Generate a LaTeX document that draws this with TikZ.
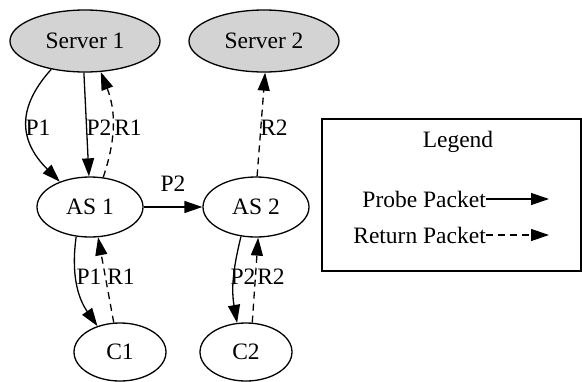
\documentclass[tikz,border=0pt]{standalone}
\usepackage{fontspec}
\setmainfont{Liberation Serif}
\usetikzlibrary{shapes.geometric,arrows.meta}
\definecolor{srvfill}{HTML}{D3D3D3}
\tikzset{
  every node/.style={font=\fontsize{23.5}{27}\selectfont},
  hostnode/.style={draw, line width=1.3pt, ellipse, inner sep=0pt},
  server/.style={hostnode, fill=srvfill, minimum width=150pt, minimum height=62pt},
  asnode/.style={hostnode, minimum width=106pt, minimum height=60pt},
  client/.style={hostnode, minimum width=92pt, minimum height=58pt},
  probe/.style={line width=1.3pt, -{Triangle[length=18pt,width=12pt]}},
  reply/.style={probe, dash pattern=on 7pt off 5pt},
  lbl/.style={inner sep=0pt}
}
\begin{document}
\begin{tikzpicture}[x=1pt,y=-1pt]
\useasboundingbox (0,0) rectangle (582,381);

% hosts
\node[server] (s1) at (85,41) {Server 1};
\node[server] (s2) at (264,41) {Server 2};
\node[asnode] (as1) at (90,207) {AS 1};
\node[asnode] (as2) at (256,207) {AS 2};
\node[client] (c1) at (120,352) {C1};
\node[client] (c2) at (246,352) {C2};

% probe and return paths
\draw[probe] (s1.220) to[out=228,in=135,looseness=1.25] (as1.140);
\draw[probe] (s1.268) -- (as1.92);
\draw[reply] (as1.66) to[bend right=20] (s1.297);
\draw[probe] (as1.east) -- (as2.west);
\draw[reply] (as2.88) -- (s2.272);
\draw[probe] (as1.245) to[out=262,in=125] (c1.131);
\draw[reply] (c1.102) -- (as1.285);
\draw[probe] (as2.243) to[out=256,in=100] (c2.107);
\draw[reply] (c2.78) -- (as2.274);

% edge labels
\node[lbl] (l1) at (38,128) {P1};
\node[lbl] (l2) at (99,128) {P2};
\node[lbl] (l3) at (128,128) {R1};
\node[lbl] (l4) at (173,184) {P2};
\node[lbl] (l5) at (274,128) {R2};
\node[lbl] (l6) at (89,277) {P1};
\node[lbl] (l7) at (121,277) {R1};
\node[lbl] (l8) at (243,277) {P2};
\node[lbl] (l9) at (271,277) {R2};

% legend
\node[draw, line width=1.3pt, minimum width=259pt, minimum height=152pt, inner sep=0pt] (leg) at (451.5,195) {};
\node[lbl] (legt) at (458,142) {Legend};
\node[lbl, anchor=east] (pp) at (486,199) {Probe Packet};
\node[lbl, anchor=east] (rp) at (486,235) {Return Packet};
\coordinate (ppe) at (549,199);
\coordinate (rpe) at (549,235);
\draw[probe] (pp.east) -- (ppe);
\draw[reply] (rp.east) -- (rpe);
\end{tikzpicture}
\end{document}
